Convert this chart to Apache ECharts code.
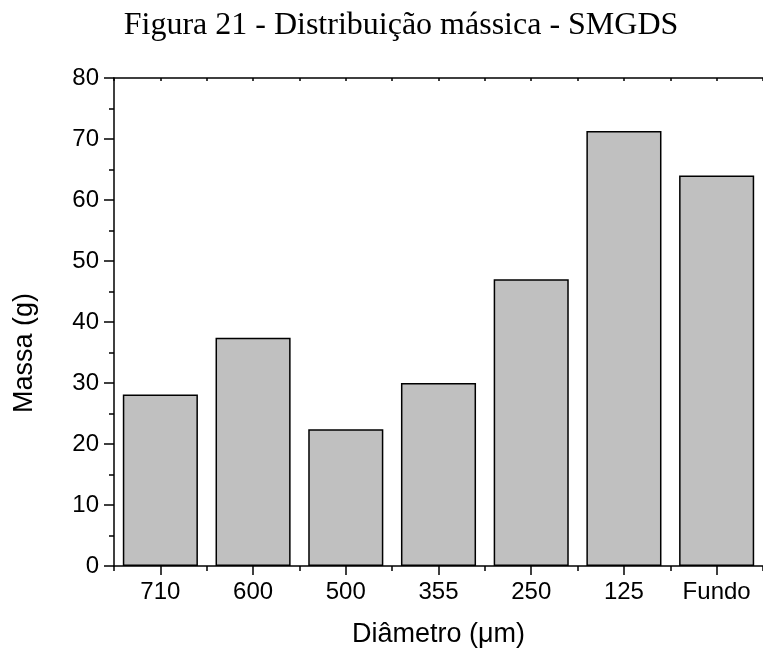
<!DOCTYPE html>
<html>
<head>
<meta charset="utf-8">
<script src="https://cdn.jsdelivr.net/npm/echarts@6/dist/echarts.min.js"></script>
<style>
  html, body { margin: 0; padding: 0; background: #fff; }
  #chart { width: 763px; height: 653px; }
</style>
</head>
<body>
<div id="chart"></div>
<script>
// Sieve fractions (µm) and retained mass (g)
const categories = ['710', '600', '500', '355', '250', '125', 'Fundo'];
const massValues = [28.1, 37.4, 22.4, 30.0, 47.0, 71.3, 64.0];
const yTicks = { min: 0, max: 80, interval: 10 };

const titleText = 'Figura 21 - Distribuição mássica - SMGDS';
const xName = 'Diâmetro (\u03bcm)';
const yName = 'Massa (g)';

const sans = '"Liberation Sans", Arial, sans-serif';
const black = '#000';
const lineW = 1.5;

const chart = echarts.init(document.getElementById('chart'), null, { renderer: 'canvas' });

chart.setOption({
  animation: false,
  backgroundColor: '#fff',
  title: {
    text: titleText,
    left: 396,
    top: 5,
    textAlign: 'center',
    textStyle: {
      fontFamily: '"Liberation Serif", "Times New Roman", serif',
      fontSize: 32,
      fontWeight: 'normal',
      color: black
    }
  },
  grid: { left: 114, top: 78, width: 656, height: 489, containLabel: false },
  xAxis: [
    {
      type: 'category',
      data: categories,
      position: 'bottom',
      name: xName,
      nameLocation: 'middle',
      nameGap: 55,
      nameTextStyle: { fontFamily: sans, fontSize: 27, color: black },
      axisLine: { lineStyle: { color: black, width: lineW } },
      axisTick: { show: true, alignWithLabel: true, length: 9, lineStyle: { color: black, width: lineW } },
      axisLabel: { fontFamily: sans, fontSize: 24, color: black, margin: 14, interval: 0 },
      splitLine: { show: false }
    },
    {
      // boundary ticks between categories
      type: 'value',
      position: 'bottom',
      min: 0, max: 7, interval: 1,
      axisLine: { show: false },
      axisTick: { show: true, length: 5, lineStyle: { color: black, width: lineW } },
      axisLabel: { show: false },
      splitLine: { show: false }
    },
    {
      // mirrored top frame line with small inward ticks
      type: 'value',
      position: 'top',
      min: 0, max: 7, interval: 0.5,
      axisLine: { show: true, lineStyle: { color: black, width: lineW } },
      axisTick: { show: true, inside: true, length: 3, lineStyle: { color: black, width: lineW } },
      axisLabel: { show: false },
      splitLine: { show: false }
    }
  ],
  yAxis: {
    type: 'value',
    min: yTicks.min, max: yTicks.max, interval: yTicks.interval,
    name: yName,
    nameLocation: 'middle',
    nameGap: 76,
    nameRotate: 90,
    nameTextStyle: { fontFamily: sans, fontSize: 27, color: black, padding: [0, 62, 0, 0] },
    axisLine: { show: true, lineStyle: { color: black, width: lineW } },
    axisTick: { show: true, length: 10, lineStyle: { color: black, width: lineW } },
    minorTick: { show: true, splitNumber: 2, length: 5, lineStyle: { color: black, width: lineW } },
    axisLabel: { fontFamily: sans, fontSize: 24, color: black, margin: 15 },
    splitLine: { show: false },
    minorSplitLine: { show: false }
  },
  series: [
    {
      type: 'bar',
      xAxisIndex: 0,
      data: massValues,
      barCategoryGap: '19%',
      itemStyle: { color: '#c0c0c0', borderColor: black, borderWidth: 1.5 }
    }
  ]
});
</script>
</body>
</html>
